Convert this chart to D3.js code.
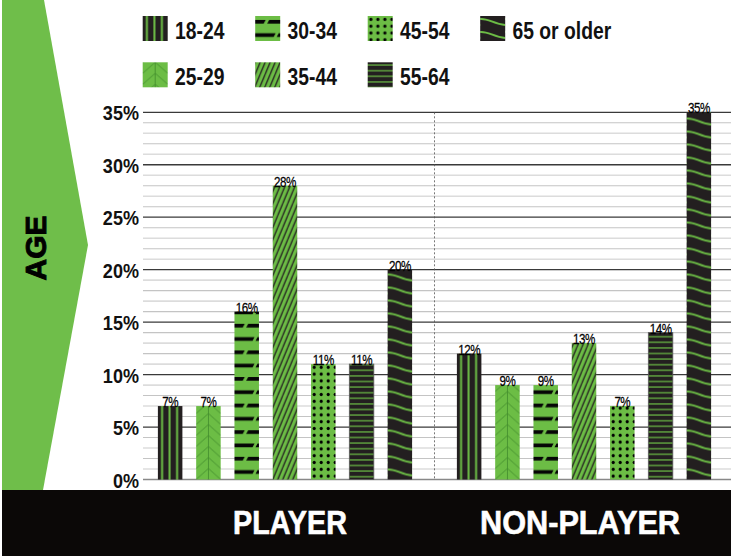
<!DOCTYPE html>
<html><head><meta charset="utf-8">
<script src="https://cdn.jsdelivr.net/npm/d3@7"></script>
<style>body{margin:0;background:#fff}</style>
</head><body>
<svg id="c" width="731" height="556"></svg>
<script>
const ages = ["18-24","25-29","30-34","35-44","45-54","55-64","65 or older"];
const groups = ["PLAYER","NON-PLAYER"];
const playerValues = [7,7,16,28,11,11,20];
const nonPlayerValues = [12,9,9,13,7,14,35];
const yTicks = [0,5,10,15,20,25,30,35];
const yTickLabels = ["0%","5%","10%","15%","20%","25%","30%","35%"];
const minorTicks = d3.range(0,36);
const axisTitle = "AGE";

const G = "#6cbd45", K = "#231f20", DG = "#3f8a2a";
const SANS = "'Liberation Sans',Arial,sans-serif";
const svg = d3.select("#c");
const defs = svg.append("defs");

const values = {"PLAYER": playerValues, "NON-PLAYER": nonPlayerValues};

const y = d3.scaleLinear().domain([0,35]).range([479.5,112.3]);
const x0 = d3.scaleBand().domain(groups).range([135.5,733.5]);
const x1 = d3.scaleBand().domain(ages).range([15.5,283.5]).paddingInner(0.36).paddingOuter(0.18);

function makePattern(id, age, px, py, w) {
  const p = defs.append("pattern").attr("id", id).attr("patternUnits","userSpaceOnUse")
    .attr("x", px).attr("y", py);
  if (age === "18-24") {
    p.attr("width",7.5).attr("height",10);
    p.append("rect").attr("width",7.5).attr("height",10).attr("fill",K);
    p.append("rect").attr("x",3.2).attr("width",2).attr("height",10).attr("fill",G);
  } else if (age === "25-29") {
    const h = 11;
    p.attr("width",w).attr("height",h);
    p.append("rect").attr("width",w).attr("height",h).attr("fill",G);
    p.append("path").attr("d",`M0,${h} L${w/2},0 L${w},${h} M${w/2},0 V${h}`)
      .attr("stroke",DG).attr("stroke-width",0.8).attr("fill","none");
  } else if (age === "30-34") {
    const h = 26.6, t = 3.6;
    p.attr("width",w).attr("height",h);
    p.append("rect").attr("width",w).attr("height",h).attr("fill",G);
    const row = (yy, a, b) =>
      `M0,${yy} H${w*a+1} L${w*a-1},${yy+t} H0 Z M${w*b+1},${yy} H${w} V${yy+t} H${w*b-1} Z`;
    p.append("path").attr("d", row(4, 0.38, 0.52) + row(4 + h/2, 0.78, 0.9)).attr("fill","#050505");
  } else if (age === "35-44") {
    p.attr("width",5).attr("height",12);
    p.append("rect").attr("width",5).attr("height",12).attr("fill",G);
    p.append("path").attr("d","M-5,12 L0,0 M0,12 L5,0 M5,12 L10,0")
      .attr("stroke",K).attr("stroke-width",1.3);
  } else if (age === "45-54") {
    p.attr("width",7).attr("height",6.8);
    p.append("rect").attr("width",7).attr("height",6.8).attr("fill",G);
    p.append("circle").attr("cx",3.2).attr("cy",3.4).attr("r",1.6).attr("fill","#000");
  } else if (age === "55-64") {
    p.attr("width",10).attr("height",5.6);
    p.append("rect").attr("width",10).attr("height",5.6).attr("fill",K);
    p.append("rect").attr("y",2.2).attr("width",10).attr("height",1.2).attr("fill",G);
  } else {
    const h = 13;
    p.attr("width",w).attr("height",h);
    p.append("rect").attr("width",w).attr("height",h).attr("fill",K);
    p.append("path").attr("d",`M0,3 C${w*0.3},2 ${w*0.55},8 ${w},9`)
      .attr("stroke",G).attr("stroke-width",2).attr("fill","none");
  }
  return `url(#${id})`;
}

// Left green arrow
svg.append("path").attr("d","M2,0 H44 L88,245 L43,490 H2 Z").attr("fill","#6fbe4a");
svg.append("text").attr("transform","translate(46,248) rotate(-90)")
  .attr("text-anchor","middle").attr("font-family",SANS)
  .attr("font-weight","bold").attr("font-size",30).attr("fill","#000")
  .attr("stroke","#000").attr("stroke-width",0.9).text(axisTitle);

// Gridlines
const grid = svg.append("g");
grid.selectAll("line.minor").data(minorTicks.filter(d => d % 5 !== 0)).join("line")
  .attr("x1",143).attr("x2",731).attr("y1",d=>y(d)).attr("y2",d=>y(d))
  .attr("stroke",d => d % 2 ? "#dcdcdc" : "#c4c4c4").attr("stroke-width",d => d % 2 ? 1.6 : 1.1);
grid.selectAll("line.major").data(yTicks).join("line")
  .attr("x1",143).attr("x2",731).attr("y1",d=>y(d)).attr("y2",d=>y(d))
  .attr("stroke",d => d === 0 ? "#888" : "#3a3a3a").attr("stroke-width",1.3);

// Y axis labels via d3 axis
const yAxis = d3.axisLeft(y).tickValues(yTicks).tickFormat((d,i)=>yTickLabels[i]).tickSize(0).tickPadding(0);
const ya = svg.append("g").attr("transform","translate(139,0)").call(yAxis);
ya.select(".domain").remove();
ya.selectAll("text").attr("font-family",SANS).attr("font-weight","bold")
  .attr("font-size",21).attr("fill","#111").attr("dy","0.36em")
  .attr("transform","scale(0.86,1)");

// Divider
svg.append("line").attr("x1",x0("NON-PLAYER")).attr("x2",x0("NON-PLAYER"))
  .attr("y1",y(35)).attr("y2",y(0)).attr("stroke","#555").attr("stroke-width",0.8)
  .attr("stroke-dasharray","2,2");

// Bars
groups.forEach((g,gi) => {
  const gEl = svg.append("g");
  ages.forEach((a,i) => {
    const v = values[g][i];
    const bx = x0(g) + x1(a);
    const bw = x1.bandwidth();
    const fill = makePattern(`p${gi}_${i}`, a, bx, y(0), bw);
    gEl.append("rect").attr("x",bx).attr("y",y(v)).attr("width",bw).attr("height",y(0)-y(v))
      .attr("fill",fill)
      .attr("stroke", a === "55-64" ? "#5a5a5a" : "none").attr("stroke-width",0.8);
    gEl.append("text").attr("transform",`translate(${bx+bw/2},${y(v)+1}) scale(0.8,1)`)
      .attr("text-anchor","middle")
      .attr("font-family",SANS).attr("font-size",14.5).attr("letter-spacing",-0.6)
      .attr("fill","#000").attr("stroke","#000").attr("stroke-width",0.25).text(v + "%");
  });
});

// Legend
const leg = svg.append("g");
ages.forEach((a,i) => {
  const col = Math.floor(i/2), row = i % 2;
  const lx = 142.7 + col*112.5, ly = 16 + row*46.3;
  const fill = makePattern(`l${i}`, a, lx, ly, 25);
  leg.append("rect").attr("x",lx).attr("y",ly).attr("width",25).attr("height",25).attr("fill",fill);
  leg.append("text").attr("transform",`translate(${lx+32.3},${ly+22.5}) scale(0.84,1)`)
    .attr("font-family",SANS).attr("font-weight","bold").attr("font-size",23)
    .attr("fill","#111").text(a);
});

// Bottom band
svg.append("rect").attr("x",2).attr("y",490).attr("width",729).attr("height",66).attr("fill","#0b0807");
const bandLabelX = {"PLAYER":290,"NON-PLAYER":580};
const bandLabelLen = {"PLAYER":114,"NON-PLAYER":200};
groups.forEach(g => {
  svg.append("text").attr("x",bandLabelX[g]-bandLabelLen[g]/2).attr("y",534)
    .attr("font-family",SANS).attr("font-weight","bold")
    .attr("font-size",33).attr("fill","#fff").attr("stroke","#fff").attr("stroke-width",0.6)
    .attr("textLength",bandLabelLen[g]).attr("lengthAdjust","spacingAndGlyphs").text(g);
});
</script>
</body></html>
